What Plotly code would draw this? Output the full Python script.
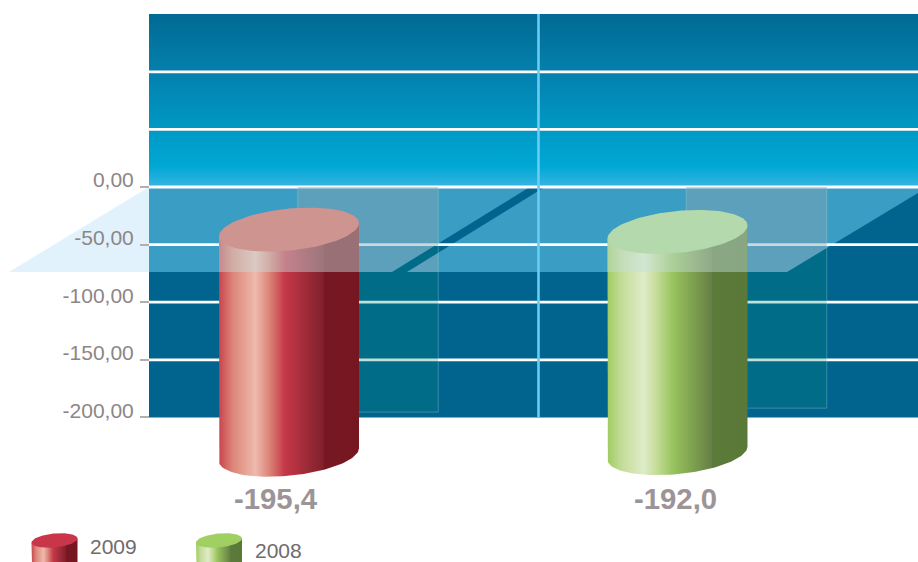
import numpy as np
import plotly.graph_objects as go

# ---- data ----
years = ["2009", "2008"]
values = [-195.4, -192.0]
tick_values = [0, -50, -100, -150, -200]
tick_labels = ["0,00", "-50,00", "-100,00", "-150,00", "-200,00"]
grid_values = [100, 50, 0, -50, -100, -150]

# ---- layout constants (x axis runs in page pixels, y axis in chart units) ----
PX_PER_UNIT = 1.152
ZERO_PX = 187.0
W, H = 918, 562
WALL_LEFT, WALL_TOP = 149, 150.2
WALL_BOTTOM = -200
CYL_X = [289, 677.5]
CYL_TOP_OFFSET = [-37, -39]
CYL_RX = 70
CYL_RY = 21 / PX_PER_UNIT
CYL_TILT = 6.5 / PX_PER_UNIT
PANEL_X = [368, 756.5]
PANEL_W = 140.5
FLOOR_FRONT = -73.8

RED_BODY = [[0, "#c8454e"], [0.1, "#dc8678"], [0.26, "#eebaad"], [0.35, "#dd8a7c"],
            [0.47, "#c53848"], [0.745, "#80202c"], [0.75, "#771722"], [1, "#761620"]]
GREEN_BODY = [[0, "#a0cc63"], [0.1, "#c4dc98"], [0.26, "#dfecc8"], [0.35, "#c5dc98"],
              [0.47, "#97c35d"], [0.745, "#657f44"], [0.75, "#5c7b3a"], [1, "#5a7939"]]
BODY = [RED_BODY, GREEN_BODY]
CAP_OVERLAY = ["#cd9490", "#b3d9ac"]
CAP_SOLID = ["#c9364a", "#a0cf62"]
LABEL_COLOR = "#9c9496"
AXIS_TEXT = "#8c8686"
FONT = "Liberation Sans"


def v(py):
    """Chart units for a distance measured down the page."""
    return (ZERO_PX - py) / PX_PER_UNIT


def poly(xs, ys, color=None, gradient=None, z=0):
    spec = dict(x=list(xs), y=list(ys), mode="lines", fill="toself",
                line=dict(width=0), hoverinfo="skip", showlegend=False, zorder=z)
    if gradient is not None:
        spec["fillgradient"] = gradient
    else:
        spec["fillcolor"] = color
    return go.Scatter(**spec)


def cap_outline(cx, vc, rx, ry, tilt):
    t = np.linspace(0, 2 * np.pi, 121)
    return cx + rx * np.cos(t), vc + tilt * np.cos(t) + ry * np.sin(t)


def body_outline(cx, v_top, v_bottom, rx, ry, tilt):
    t = np.linspace(np.pi, 2 * np.pi, 61)
    xs = np.concatenate([[cx - rx], cx + rx * np.cos(t), [cx + rx]])
    ys = np.concatenate([[v_top - tilt], v_bottom + tilt * np.cos(t) + ry * np.sin(t), [v_top + tilt]])
    return xs, ys


def slant_x(value, x_front):
    """x on a floor edge receding at the floor's slope."""
    return x_front + (value - FLOOR_FRONT) * PX_PER_UNIT * 1.62


fig = go.Figure()

# back wall: vertical gradient above zero, flat below
fig.add_trace(poly([WALL_LEFT, W, W, WALL_LEFT], [WALL_TOP, WALL_TOP, 0, 0], gradient=dict(
    type="vertical", start=WALL_TOP, stop=0,
    colorscale=[[0, "#006a94"], [0.33, "#0480ac"], [0.66, "#0098c4"],
                [0.88, "#00a8d4"], [1, "#37b4e1"]])))
fig.add_trace(poly([WALL_LEFT, W, W, WALL_LEFT], [0, 0, WALL_BOTTOM, WALL_BOTTOM], "#00648f"))

# floor plates
PLATE = "rgba(116,214,250,0.5)"
fig.add_trace(poly([WALL_LEFT, 9, WALL_LEFT], [0, FLOOR_FRONT, FLOOR_FRONT], "#e1f2fc"))
fig.add_trace(poly([WALL_LEFT, WALL_LEFT, 392, slant_x(0, 392)], [0, FLOOR_FRONT, FLOOR_FRONT, 0], PLATE))
fig.add_trace(poly([slant_x(0, 407), 407, 787, W, W], [0, FLOOR_FRONT, FLOOR_FRONT, v(193), 0], PLATE))

# grid lines and the central divider
for g in grid_values:
    fig.add_trace(go.Scatter(x=[WALL_LEFT, W], y=[g, g], mode="lines", zorder=0,
                             line=dict(color="#ffffff", width=2.8),
                             hoverinfo="skip", showlegend=False))
fig.add_trace(go.Scatter(x=[538.5, 538.5], y=[WALL_TOP, WALL_BOTTOM], mode="lines", zorder=0,
                         line=dict(color="#68cdf3", width=2.6), hoverinfo="skip", showlegend=False))

# translucent value panels behind the cylinders
fig.add_trace(go.Bar(x=PANEL_X, y=values, width=PANEL_W, zorder=1,
                     marker=dict(color="rgba(0,130,110,0.25)",
                                 line=dict(color="rgba(190,225,225,0.3)", width=1)),
                     hoverinfo="skip", showlegend=False))

# warm sheen where a panel meets the floor
SHEEN = "rgba(239,190,226,0.25)"
px0, px1 = PANEL_X[0] - PANEL_W / 2, PANEL_X[0] + PANEL_W / 2
edge = FLOOR_FRONT + (px1 - 392) / (1.62 * PX_PER_UNIT)
fig.add_trace(poly([px0, px1, px1, 392, px0], [0, 0, edge, FLOOR_FRONT, FLOOR_FRONT], SHEEN, z=2))
edge = FLOOR_FRONT + (px1 - 407) / (1.62 * PX_PER_UNIT)
fig.add_trace(poly([407, px1, px1], [FLOOR_FRONT, FLOOR_FRONT, edge], SHEEN, z=2))
px0, px1 = PANEL_X[1] - PANEL_W / 2, PANEL_X[1] + PANEL_W / 2
edge = FLOOR_FRONT + (px1 - 787) / (1.66 * PX_PER_UNIT)
fig.add_trace(poly([px0, px1, px1, 787, px0], [0, 0, edge, FLOOR_FRONT, FLOOR_FRONT], SHEEN, z=2))

# cylinders, with the floor's haze over the part above its front edge
for i, val in enumerate(values):
    cx, top = CYL_X[i], CYL_TOP_OFFSET[i]
    xs, ys = body_outline(cx, top, top + val, CYL_RX, CYL_RY, CYL_TILT)
    fig.add_trace(poly(xs, ys, z=3, gradient=dict(
        type="horizontal", start=cx - CYL_RX, stop=cx + CYL_RX, colorscale=BODY[i])))
    fig.add_trace(poly([cx - CYL_RX, cx + CYL_RX, cx + CYL_RX, cx - CYL_RX],
                       [top - CYL_TILT, top + CYL_TILT, FLOOR_FRONT, FLOOR_FRONT],
                       "rgba(195,222,222,0.45)", z=3))
    xs, ys = cap_outline(cx, top, CYL_RX, CYL_RY, CYL_TILT)
    fig.add_trace(poly(xs, ys, CAP_OVERLAY[i], z=3))

# legend keys as small cylinders
LEG_X = [54.5, 219]
LEG_TOP = v(540.5)
LEG_RX, LEG_RY, LEG_TILT = 23, 7 / PX_PER_UNIT, 2 / PX_PER_UNIT
for i in range(2):
    xs, ys = body_outline(LEG_X[i], LEG_TOP, LEG_TOP - 40, LEG_RX, LEG_RY, LEG_TILT)
    fig.add_trace(poly(xs, ys, z=3, gradient=dict(
        type="horizontal", start=LEG_X[i] - LEG_RX, stop=LEG_X[i] + LEG_RX, colorscale=BODY[i])))
    xs, ys = cap_outline(LEG_X[i], LEG_TOP, LEG_RX, LEG_RY, LEG_TILT)
    fig.add_trace(poly(xs, ys, CAP_SOLID[i], z=3))

# value captions and legend text
for x, val in zip([275.5, 675.5], values):
    fig.add_annotation(x=x, y=v(498.5), text=f"<b>{val:.1f}</b>".replace(".", ","), showarrow=False,
                       font=dict(family=FONT, size=29.3, color=LABEL_COLOR), xanchor="center", yanchor="middle")
for x, py, year in zip([88, 252.5], [546, 550], years):
    fig.add_annotation(x=x, y=v(py), text=year, showarrow=False,
                       font=dict(family=FONT, size=21, color="#706b6b"), xanchor="left", yanchor="middle")

fig.update_layout(
    width=W, height=H, margin=dict(l=0, r=0, t=0, b=0),
    paper_bgcolor="#ffffff", plot_bgcolor="#ffffff", showlegend=False,
    xaxis=dict(range=[0, W], visible=False, fixedrange=True),
    yaxis=dict(
        range=[v(H), v(0)], anchor="free", position=WALL_LEFT / W, side="left",
        tickmode="array", tickvals=tick_values, ticktext=tick_labels,
        ticks="outside", ticklen=9, tickwidth=1.5, tickcolor="#b3afaf",
        ticklabelstandoff=2, ticklabelshift=-7,
        tickfont=dict(family=FONT, size=21, color=AXIS_TEXT),
        showgrid=False, zeroline=False, showline=False, fixedrange=True,
    ),
)

fig.write_html("out.html")
